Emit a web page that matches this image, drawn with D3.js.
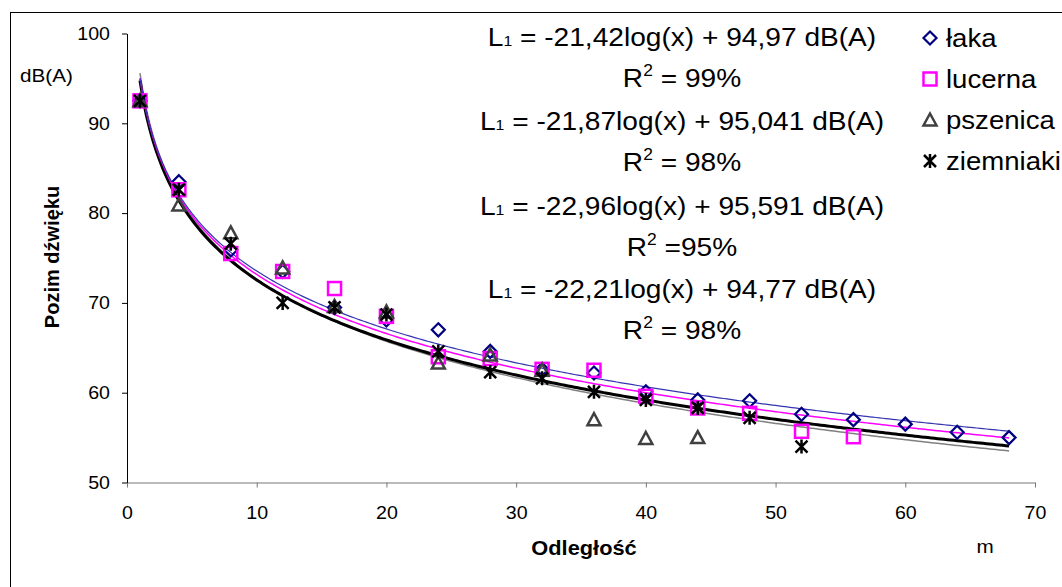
<!DOCTYPE html>
<html>
<head>
<meta charset="utf-8">
<script src="https://cdn.jsdelivr.net/npm/d3@7"></script>
<style>
body { margin: 0; background: #fff; }
svg { display: block; font-family: "Liberation Sans", Arial, sans-serif; }
</style>
</head>
<body>
<div id="chart"></div>
<script>
// odleglosc (m)
var xLaka = [1, 4, 8, 12, 16, 20, 24, 28, 32, 36, 40, 44, 48, 52, 56, 60, 64, 68];
var laka = [92.5, 83.5, 75.9, 73.5, 69.5, 68.1, 67, 64.6, 62.6, 62.2, 60.1, 59.2, 59.1, 57.6, 57, 56.5, 55.6, 55];

var xLucerna = [1, 4, 8, 12, 16, 20, 24, 28, 32, 36, 40, 44, 48, 52, 56];
var lucerna = [92.5, 82.6, 75.5, 73.5, 71.6, 68.5, 64, 63.8, 62.6, 62.5, 59.6, 58.3, 57.7, 55.7, 55.1];

var xPszenica = [1, 4, 8, 12, 16, 20, 24, 28, 32, 36, 40, 44];
var pszenica = [92.5, 80.9, 77.8, 73.9, 69.6, 69, 63.3, 64.2, 62.5, 57, 54.9, 55];

var xZiemniaki = [1, 4, 8, 12, 16, 20, 24, 28, 32, 36, 40, 44, 48, 52];
var ziemniaki = [92.5, 82.6, 76.6, 70, 69.5, 68.7, 64.6, 62.3, 61.6, 60.1, 59.2, 58.3, 57.2, 54];

var names = ["łaka", "lucerna", "pszenica", "ziemniaki"];
// L1 = a*log(x) + b
var slopes = [-21.42, -21.87, -22.96, -22.21];
var intercepts = [94.97, 95.041, 95.591, 94.77];
var eqTexts = ["-21,42log(x) + 94,97 dB(A)", "-21,87log(x) + 95,041 dB(A)",
               "-22,96log(x) + 95,591 dB(A)", "-22,21log(x) + 94,77 dB(A)"];
var r2Texts = [" = 99%", " = 98%", " =95%", " = 98%"];

var xTicks = [0, 10, 20, 30, 40, 50, 60, 70];
var yTicks = [50, 60, 70, 80, 90, 100];

var W = 1062, H = 587;
var SX = 1.09; // tekst jest troche rozciagniety w poziomie

var svg = d3.select("#chart").append("svg")
	.attr("width", W)
	.attr("height", H);

svg.append("rect")
	.attr("x", 10.5).attr("y", 12.5)
	.attr("width", 1100).attr("height", 600)
	.attr("fill", "#fff")
	.attr("stroke", "#000")
	.attr("stroke-width", 1);

var x = d3.scaleLinear().domain([0, 70]).range([127, 1035]);
var y = d3.scaleLinear().domain([50, 100]).range([482.5, 33.5]);

function label(x0, y0, str, size, anchor, weight) {
	var g = svg.append("g").attr("transform", "translate(" + x0 + "," + y0 + ") scale(" + SX + ",1)");
	return g.append("text")
		.attr("text-anchor", anchor || "start")
		.attr("font-size", size)
		.attr("font-weight", weight || "normal")
		.attr("fill", "#000")
		.text(str);
}

// osie
var xAxis = svg.append("g")
	.attr("transform", "translate(0," + y(50) + ")")
	.call(d3.axisBottom(x).tickValues(xTicks).tickSize(5).tickSizeOuter(0).tickPadding(19));
xAxis.select(".domain").attr("stroke", "#777");
xAxis.selectAll(".tick line").attr("stroke", "#777");
xAxis.selectAll(".tick text")
	.attr("font-size", 18)
	.attr("font-family", "Liberation Sans, Arial, sans-serif")
	.attr("fill", "#000")
	.attr("transform", "scale(" + SX + ",1)")
	.attr("x", 0);

var yAxis = svg.append("g")
	.attr("transform", "translate(" + x(0) + ",0)")
	.call(d3.axisLeft(y).tickValues(yTicks).tickSize(5).tickSizeOuter(0).tickPadding(12));
yAxis.select(".domain").attr("stroke", "#000");
yAxis.selectAll(".tick line").attr("stroke", "#000");
yAxis.selectAll(".tick text")
	.attr("font-size", 18)
	.attr("font-family", "Liberation Sans, Arial, sans-serif")
	.attr("fill", "#000")
	.attr("x", 0)
	.attr("transform", "translate(-17,0) scale(" + SX + ",1)");

// linie trendu
var lineColors = ["#3535b0", "#ff00ff", "#808080", "#000"];
var lineWidths = [1.2, 1.5, 1.5, 3];
var drawOrder = [2, 3, 1, 0];
var xs = d3.range(1, 68.01, 0.25);
var line = d3.line()
	.x(function (d) { return x(d[0]); })
	.y(function (d) { return y(d[1]); })
	.curve(d3.curveLinear);

drawOrder.forEach(function (i) {
	var pts = xs.map(function (v) { return [v, slopes[i] * Math.log10(v) + intercepts[i]]; });
	svg.append("path")
		.datum(pts)
		.attr("d", line)
		.attr("fill", "none")
		.attr("stroke", lineColors[i])
		.attr("stroke-width", lineWidths[i]);
});

// markery
function drawMarker(g, type) {
	if (type === 0) {
		g.append("path").attr("d", "M0,-6.5L6.5,0L0,6.5L-6.5,0Z")
			.attr("fill", "none").attr("stroke", "#000080").attr("stroke-width", 2.2);
	} else if (type === 1) {
		g.append("rect").attr("x", -6.5).attr("y", -6.5).attr("width", 13).attr("height", 13)
			.attr("fill", "none").attr("stroke", "#ff00ff").attr("stroke-width", 2.5);
	} else if (type === 2) {
		g.append("path").attr("d", "M0,-6.5L6.5,5.5L-6.5,5.5Z")
			.attr("fill", "none").attr("stroke", "#404040").attr("stroke-width", 2.5)
			.attr("stroke-linejoin", "miter");
	} else {
		g.append("path").attr("d", "M-6,-6L6,6M6,-6L-6,6M0,-7L0,7")
			.attr("fill", "none").attr("stroke", "#000").attr("stroke-width", 2.5);
	}
}

var seriesX = [xLaka, xLucerna, xPszenica, xZiemniaki];
var seriesY = [laka, lucerna, pszenica, ziemniaki];

for (var s = 0; s < 4; s++) {
	var pts = seriesX[s].map(function (v, j) { return [v, seriesY[s][j]]; });
	var type = s;
	svg.append("g").selectAll("g")
		.data(pts)
		.enter()
		.append("g")
		.attr("transform", function (d) { return "translate(" + x(d[0]) + "," + y(d[1]) + ")"; })
		.each(function () { drawMarker(d3.select(this), type); });
}

// legenda
var legY = [38, 79, 120, 161];
for (var k = 0; k < 4; k++) {
	drawMarker(svg.append("g").attr("transform", "translate(930," + legY[k] + ")"), k);
	label(946, legY[k] + 9, names[k], 25.3, "start");
}

// rownania
var eqY = [46, 130, 215, 298];
for (var e = 0; e < 4; e++) {
	var t = label(682, eqY[e], "", 25.8, "middle");
	t.append("tspan").text("L");
	t.append("tspan").attr("font-size", 14.5).text("1");
	t.append("tspan").text(" = " + eqTexts[e]);

	var r = label(682, eqY[e] + 41, "", 25.8, "middle");
	r.append("tspan").text("R");
	r.append("tspan").attr("font-size", 16).attr("dy", -11).text("2");
	r.append("tspan").attr("dy", 11).text(r2Texts[e]);
}

// opisy osi
label(20, 82, "dB(A)", 19, "start");
label(584, 555, "Odległość", 20, "middle", "bold");
label(985, 553, "m", 19, "middle");

svg.append("text")
	.attr("transform", "translate(59,257) rotate(-90)")
	.attr("text-anchor", "middle")
	.attr("font-size", 20)
	.attr("font-weight", "bold")
	.text("Pozim dźwięku");
</script>
</body>
</html>
